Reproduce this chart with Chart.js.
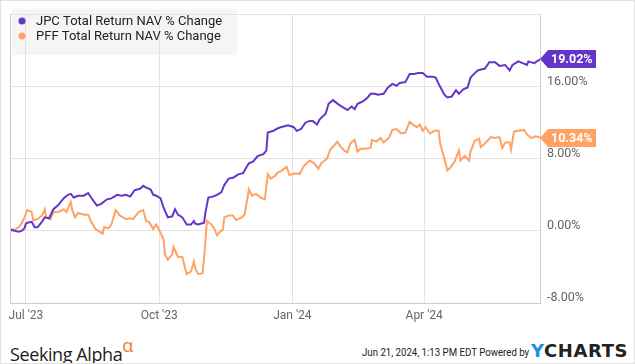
<!DOCTYPE html>
<html>
<head>
<meta charset="utf-8">
<script src="https://cdn.jsdelivr.net/npm/chart.js@4"></script>
<style>
    html, body { margin: 0; padding: 0; background: #fff; }
    #wrap { position: relative; width: 633px; height: 362px; border: 1px solid #e2e2e2; overflow: hidden; }
    #myLineChart { position: absolute; left: -1px; top: -1px; }
    .sa { position: absolute; left: 9px; top: 334px; font-family: 'Open Sans', sans-serif; font-size: 18px; color: #1c1c1c; letter-spacing: -0.4px; }
    .sa sup { color: #f57c1f; font-size: 18px; position: relative; top: -2px; margin-left: 0px; }
    .stamp { position: absolute; left: 361px; top: 344px; font-family: 'Roboto', sans-serif; font-size: 11.5px; color: #222; white-space: nowrap; transform: scaleX(0.84); transform-origin: left top; }
    .yc { position: absolute; left: 530px; top: 339px; font-family: 'DejaVu Sans', sans-serif; font-weight: bold; font-size: 18px; letter-spacing: 0.6px; color: #222; }
    .yc span { color: #1f8ee0; }
</style>
</head>
<body>
<div id="wrap">
    <canvas id="myLineChart" width="635" height="330"></canvas>
    <div class="sa">Seeking Alpha<sup>α</sup></div>
    <div class="stamp">Jun 21, 2024, 1:13 PM EDT Powered by</div>
    <div class="yc"><span>Y</span>CHARTS</div>
</div>
<script>
// days counted from Jun 20 2023
const tick_days = [11, 103, 195, 286];
const tick_labels = ["Jul '23", "Oct '23", "Jan '24", "Apr '24"];

const series_names = ['JPC Total Return NAV % Change', 'PFF Total Return NAV % Change'];
const series_colors = ['#6435c9', '#ffa264'];

const jpc_days = [0, 1, 6, 8, 10, 11, 12, 15, 17, 19, 22, 24, 27, 30, 33, 37, 40, 42, 44, 47, 51, 54, 56, 60, 63, 67, 70, 74, 77, 80, 83, 86, 90, 92, 94, 97, 99, 101, 104, 106, 109, 112, 114, 116, 119, 122, 125, 127, 128, 130, 134, 135, 137, 140, 143, 146, 148, 151, 154, 158, 161, 163, 165, 168, 171, 175, 177, 178, 182, 184, 187, 192, 196, 198, 201, 204, 207, 209, 212, 214, 218, 220, 223, 227, 230, 233, 236, 238, 240, 244, 247, 249, 252, 254, 258, 261, 264, 267, 269, 273, 276, 279, 282, 285, 288, 292, 294, 296, 298, 300, 302, 305, 308, 310, 313, 316, 318, 321, 323, 328, 331, 335, 338, 342, 345, 347, 351, 354, 357, 358, 362, 366];
const jpc_values = [0.0, 0.1, -0.1, 0.0, 0.3, 0.8, 0.9, 1.0, 0.4, 0.4, 1.0, 1.5, 1.4, 2.4, 2.8, 3.6, 4.0, 4.1, 3.7, 3.9, 3.9, 4.2, 3.7, 2.8, 3.0, 3.5, 3.6, 4.0, 3.9, 4.0, 3.8, 4.5, 4.7, 5.0, 4.8, 4.6, 4.0, 3.9, 3.6, 2.6, 1.5, 1.6, 2.4, 1.8, 1.5, 0.7, 0.7, 1.1, 0.8, 0.7, 0.9, 2.1, 3.7, 3.8, 4.0, 4.3, 5.1, 5.8, 5.9, 6.3, 6.4, 7.0, 7.5, 7.7, 8.3, 8.5, 8.9, 10.9, 11.1, 11.3, 11.5, 11.7, 11.5, 11.1, 11.3, 12.0, 12.2, 12.2, 11.8, 12.4, 13.0, 14.1, 14.5, 14.0, 13.7, 13.4, 13.8, 13.5, 14.1, 14.4, 14.8, 15.2, 15.2, 15.1, 15.2, 15.9, 16.3, 16.1, 16.4, 16.5, 17.4, 17.4, 17.5, 17.5, 17.1, 17.1, 17.0, 16.3, 15.7, 15.1, 14.8, 14.9, 15.6, 15.2, 15.7, 15.9, 17.0, 17.5, 17.8, 18.0, 18.7, 18.7, 18.3, 18.4, 17.8, 18.4, 18.8, 18.6, 18.4, 18.8, 18.6, 19.02];

const pff_days = [0, 1, 3, 6, 8, 10, 12, 15, 16, 19, 22, 24, 25, 28, 30, 33, 35, 37, 39, 42, 43, 45, 47, 51, 54, 56, 59, 62, 64, 65, 68, 70, 73, 76, 80, 83, 85, 89, 92, 94, 96, 99, 101, 103, 106, 107, 109, 112, 113, 116, 119, 122, 125, 127, 128, 130, 133, 134, 136, 139, 141, 143, 145, 147, 148, 151, 154, 156, 160, 162, 165, 167, 170, 173, 176, 178, 180, 183, 185, 187, 191, 193, 197, 200, 203, 207, 210, 213, 215, 219, 221, 224, 226, 228, 231, 233, 235, 238, 240, 242, 245, 249, 250, 253, 256, 258, 262, 264, 267, 270, 273, 276, 279, 281, 283, 285, 287, 290, 293, 296, 297, 300, 302, 304, 307, 310, 311, 314, 317, 318, 321, 324, 325, 328, 332, 335, 338, 340, 342, 345, 346, 348, 351, 355, 357, 360, 363, 366];
const pff_values = [0.0, 0.2, 0.1, 0.4, 0.8, 1.5, 2.3, 2.1, 1.2, 1.3, 1.7, 2.4, 1.5, 1.3, 2.1, 2.1, 2.2, 2.4, 2.1, 3.2, 2.3, 1.5, 2.0, 1.8, 1.8, 1.0, 0.2, -0.1, -0.3, 0.4, 0.3, 0.7, 2.3, 1.7, 1.3, 1.4, 1.3, 2.1, 2.3, 1.1, 1.0, 0.2, 0.7, 0.1, -0.9, -2.6, -3.2, -2.6, -1.8, -2.9, -2.9, -4.8, -4.5, -3.4, -4.2, -4.8, -4.7, -3.0, 1.1, 0.7, 0.3, -0.5, -0.1, 0.1, 1.5, 1.7, 1.7, 1.2, 1.5, 1.8, 4.6, 3.9, 4.1, 3.7, 3.5, 6.3, 5.8, 6.1, 6.5, 6.6, 7.1, 6.2, 6.4, 6.3, 7.2, 7.8, 7.5, 6.9, 7.5, 8.0, 9.0, 9.5, 9.9, 9.4, 8.9, 8.7, 9.7, 10.1, 8.8, 9.1, 9.1, 9.2, 10.1, 9.9, 10.3, 9.8, 10.4, 11.2, 11.3, 10.8, 10.9, 12.1, 11.7, 11.5, 11.8, 11.1, 11.5, 10.8, 11.1, 11.1, 9.7, 8.0, 6.7, 7.0, 7.7, 8.9, 7.8, 8.3, 7.8, 8.8, 10.0, 10.2, 9.3, 9.7, 10.4, 10.3, 10.4, 9.2, 9.8, 9.8, 9.0, 11.0, 11.1, 11.2, 10.7, 10.3, 10.5, 10.34];

const y_ticks = [-8, 0, 8, 16, 24];

window.onload = () => {
    line_graph();
}

function to_points(days, values) {
    return days.map((d, i) => ({ x: d, y: values[i] }));
}

// legend box (drawn under the grid) and legend text
const legend_plugin = {
    id: 'legend_box',
    beforeDraw(chart) {
        const ctx = chart.ctx;
        ctx.save();
        ctx.fillStyle = '#f5f5f5';
        ctx.fillRect(12, 9, 225, 46);
        ctx.restore();
    },
    afterDraw(chart) {
        const ctx = chart.ctx;
        ctx.save();
        ctx.font = '13px Roboto';
        ctx.textBaseline = 'middle';
        series_names.forEach((name, i) => {
            const y = 21 + i * 15;
            ctx.fillStyle = series_colors[i];
            ctx.beginPath();
            ctx.arc(22, y, 3.5, 0, Math.PI * 2);
            ctx.fill();
            ctx.fillStyle = '#222';
            ctx.fillText(name, 36, y + 1);
        });
        ctx.restore();
    }
};

// left border and last value tags
const frame_plugin = {
    id: 'frame_tags',
    afterDatasetsDraw(chart) {
        const ctx = chart.ctx;
        const area = chart.chartArea;
        ctx.save();
        ctx.strokeStyle = '#cccccc';
        ctx.lineWidth = 1;
        ctx.beginPath();
        ctx.moveTo(area.left + 0.5, area.top);
        ctx.lineTo(area.left + 0.5, area.bottom);
        ctx.stroke();

        chart.data.datasets.forEach((ds, i) => {
            const meta = chart.getDatasetMeta(i);
            const last = meta.data[meta.data.length - 1];
            const cy = Math.round(last.y);
            const x0 = area.right;
            ctx.fillStyle = series_colors[i];
            ctx.beginPath();
            ctx.moveTo(x0, cy);
            ctx.lineTo(x0 + 8, cy - 9);
            ctx.lineTo(x0 + 56, cy - 9);
            ctx.lineTo(x0 + 56, cy + 9);
            ctx.lineTo(x0 + 8, cy + 9);
            ctx.closePath();
            ctx.fill();
            ctx.fillStyle = '#fff';
            ctx.font = 'bold 12.5px Roboto';
            ctx.textBaseline = 'middle';
            ctx.fillText(ds.data[ds.data.length - 1].y.toFixed(2) + '%', x0 + 11, cy + 1);
        });
        ctx.restore();
    }
};

function line_graph() {
    const ctx = document.getElementById('myLineChart').getContext('2d');
    Chart.defaults.font.family = 'Roboto';

    window.myLineChart = new Chart(ctx, {
        type: 'line',
        data: {
            datasets: [{
                label: series_names[0],
                data: to_points(jpc_days, jpc_values),
                borderColor: series_colors[0],
                borderWidth: 2,
                pointRadius: 0,
                tension: 0
            }, {
                label: series_names[1],
                data: to_points(pff_days, pff_values),
                borderColor: series_colors[1],
                borderWidth: 2,
                pointRadius: 0,
                tension: 0
            }]
        },
        options: {
            responsive: false,
            animation: false,
            layout: {
                padding: { left: 10, top: 8, right: 0, bottom: 0 }
            },
            plugins: {
                legend: { display: false },
                tooltip: { enabled: false }
            },
            scales: {
                x: {
                    type: 'linear',
                    min: 0,
                    max: 366,
                    afterBuildTicks: (scale) => {
                        scale.ticks = tick_days.map(v => ({ value: v }));
                    },
                    afterFit: (scale) => { scale.height = 27; },
                    ticks: {
                        color: '#666',
                        font: { size: 12 },
                        padding: 6,
                        maxRotation: 0,
                        autoSkip: false,
                        callback: (v) => tick_labels[tick_days.indexOf(v)]
                    },
                    grid: {
                        color: '#e3e3e3',
                        drawTicks: false
                    },
                    border: { color: '#cccccc' }
                },
                y: {
                    position: 'right',
                    min: -8,
                    max: 24,
                    afterBuildTicks: (scale) => {
                        scale.ticks = y_ticks.map(v => ({ value: v }));
                    },
                    afterFit: (scale) => { scale.width = 95; },
                    ticks: {
                        color: '#666',
                        font: { size: 12.5 },
                        padding: 7,
                        labelOffset: -5,
                        callback: (v) => v === 24 ? '' : v.toFixed(2) + '%'
                    },
                    grid: {
                        color: '#e3e3e3',
                        drawTicks: false
                    },
                    border: { color: '#cccccc' }
                }
            }
        },
        plugins: [legend_plugin, frame_plugin]
    });
}
</script>
</body>
</html>
